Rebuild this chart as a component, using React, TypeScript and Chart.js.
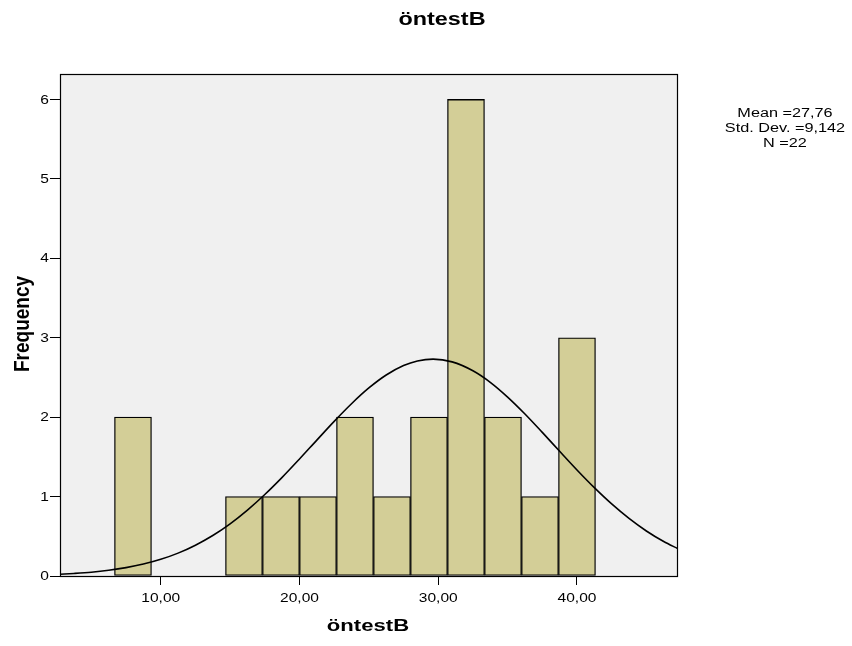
import React, { useEffect, useRef } from "react";
import { Chart, registerables } from "chart.js";

Chart.register(...registerables);

// ---- Texts ----
const chartTitle = "öntestB";
const xAxisTitle = "öntestB";
const yAxisTitle = "Frequency";
const statsLines = ["Mean =27,76", "Std. Dev. =9,142", "N =22"];

// ---- Histogram data (bin width 8/3) ----
const binCenters = [8.0, 10.667, 13.333, 16.0, 18.667, 21.333, 24.0, 26.667, 29.333, 32.0, 34.667, 37.333, 40.0];
const binCounts = [2, 0, 0, 1, 1, 1, 2, 1, 2, 6, 2, 1, 3];

// ---- Normal curve ----
const curveX = [
  2.74, 3.75, 5, 6.25, 7.5, 8.75, 10, 11.25, 12.5, 13.75, 15, 16.25, 17.5, 18.75, 20, 21.25, 22.5, 23.75, 25, 26.25,
  27.5, 28.5, 29.63, 31, 32.5, 33.75, 35, 36.25, 37.5, 38.75, 40, 41.25, 42.5, 43.75, 45, 46.25, 47.28,
];
const curveY = [
  0.022, 0.032, 0.048, 0.072, 0.105, 0.15, 0.21, 0.288, 0.388, 0.51, 0.657, 0.83, 1.026, 1.242, 1.473, 1.711, 1.947,
  2.169, 2.367, 2.53, 2.649, 2.707, 2.73, 2.696, 2.584, 2.439, 2.253, 2.04, 1.808, 1.57, 1.335, 1.112, 0.907, 0.725,
  0.567, 0.434, 0.343,
];

// ---- Axes ----
const xTickValues = [10, 20, 30, 40];
const xTickLabels = ["10,00", "20,00", "30,00", "40,00"];
const yTickValues = [0, 1, 2, 3, 4, 5, 6];
const yTickLabels = ["0", "1", "2", "3", "4", "5", "6"];
const xMin = 2.74;
const xMax = 47.28;
const yMin = 0;
const yMax = 6.32;

const FONT = '"Liberation Sans", Arial, Helvetica, sans-serif';
const STRETCH = 1.3;

function drawText(
  ctx: CanvasRenderingContext2D,
  text: string,
  x: number,
  y: number,
  font: string,
  align: CanvasTextAlign,
  baseline: CanvasTextBaseline,
  stretch: number
) {
  ctx.save();
  ctx.font = font;
  ctx.fillStyle = "#000";
  ctx.translate(x, y);
  ctx.scale(stretch, 1);
  ctx.textAlign = align;
  ctx.textBaseline = baseline;
  ctx.fillText(text, 0, 0);
  ctx.restore();
}

const framePlugin = {
  id: "spssFrame",
  beforeDraw(chart: any) {
    const { ctx, chartArea } = chart;
    ctx.save();
    ctx.fillStyle = "#ffffff";
    ctx.fillRect(0, 0, chart.width, chart.height);
    ctx.fillStyle = "#f0f0f0";
    ctx.fillRect(chartArea.left, chartArea.top, chartArea.right - chartArea.left, chartArea.bottom - chartArea.top);
    ctx.restore();
  },
  afterDraw(chart: any) {
    const { ctx, chartArea } = chart;
    ctx.save();
    ctx.strokeStyle = "#000";
    ctx.lineWidth = 1.2;
    ctx.strokeRect(
      Math.round(chartArea.left) + 0.5,
      Math.round(chartArea.top) + 0.5,
      Math.round(chartArea.right - chartArea.left) - 1,
      Math.round(chartArea.bottom - chartArea.top)
    );
    ctx.restore();

    const xs = chart.scales.x;
    const ys = chart.scales.y;
    xTickValues.forEach((v, i) => {
      drawText(ctx, xTickLabels[i], xs.getPixelForValue(v), 602, `13.5px ${FONT}`, "center", "alphabetic", 1.15);
    });
    yTickValues.forEach((v, i) => {
      drawText(ctx, yTickLabels[i], 49, ys.getPixelForValue(v) + 0.5, `13.5px ${FONT}`, "right", "middle", 1.15);
    });

    drawText(ctx, chartTitle, 442, 25, `bold 18px ${FONT}`, "center", "alphabetic", STRETCH);
    drawText(ctx, xAxisTitle, 368, 631, `bold 17px ${FONT}`, "center", "alphabetic", STRETCH);

    statsLines.forEach((s, i) => {
      drawText(ctx, s, 785, 117 + i * 15, `12.5px ${FONT}`, "center", "alphabetic", STRETCH);
    });

    ctx.save();
    ctx.font = `bold 19px ${FONT}`;
    ctx.fillStyle = "#000";
    ctx.translate(29, 324);
    ctx.rotate(-Math.PI / 2);
    ctx.scale(1, 1.15);
    ctx.textAlign = "center";
    ctx.textBaseline = "alphabetic";
    ctx.fillText(yAxisTitle, 0, 0);
    ctx.restore();
  },
};

export default function App() {
  const canvasRef = useRef<HTMLCanvasElement | null>(null);

  useEffect(() => {
    document.body.style.margin = "0";
    const canvas = canvasRef.current;
    if (!canvas) return;

    const chart = new Chart(canvas, {
      type: "bar",
      data: {
        datasets: [
          {
            type: "line",
            label: "Normal",
            data: curveX.map((x, i) => ({ x, y: curveY[i] })),
            borderColor: "#000",
            borderWidth: 1.6,
            pointRadius: 0,
            fill: false,
            cubicInterpolationMode: "monotone",
            order: 0,
          } as any,
          {
            type: "bar",
            label: "Frequency",
            data: binCenters.map((x, i) => ({ x, y: binCounts[i] })),
            backgroundColor: "#d3ce97",
            borderColor: "#000",
            borderWidth: 1.3,
            borderSkipped: false,
            barPercentage: 1,
            categoryPercentage: 1,
            order: 1,
          } as any,
        ],
      },
      options: {
        animation: false,
        responsive: false,
        maintainAspectRatio: false,
        layout: { padding: { left: 0, top: 74, right: 174, bottom: 0 } },
        plugins: {
          legend: { display: false },
          tooltip: { enabled: false },
          title: { display: false },
        },
        scales: {
          x: {
            type: "linear",
            min: xMin,
            max: xMax,
            offset: false,
            afterBuildTicks: (scale: any) => {
              scale.ticks = xTickValues.map((v) => ({ value: v }));
            },
            afterFit: (scale: any) => {
              scale.height = 70;
            },
            ticks: { display: false },
            border: { display: false },
            grid: {
              display: true,
              drawOnChartArea: false,
              drawTicks: true,
              tickLength: 9,
              color: "#000",
              lineWidth: 1,
              offset: false,
            },
          },
          y: {
            type: "linear",
            min: yMin,
            max: yMax,
            afterBuildTicks: (scale: any) => {
              scale.ticks = yTickValues.map((v) => ({ value: v }));
            },
            afterFit: (scale: any) => {
              scale.width = 60;
            },
            ticks: { display: false },
            border: { display: false },
            grid: {
              display: true,
              drawOnChartArea: false,
              drawTicks: true,
              tickLength: 10,
              color: "#000",
              lineWidth: 1,
            },
          },
        },
      } as any,
      plugins: [framePlugin],
    });

    return () => chart.destroy();
  }, []);

  return (
    <div style={{ width: 852, height: 646 }}>
      <canvas ref={canvasRef} width={852} height={646} style={{ display: "block", width: 852, height: 646 }} />
    </div>
  );
}
